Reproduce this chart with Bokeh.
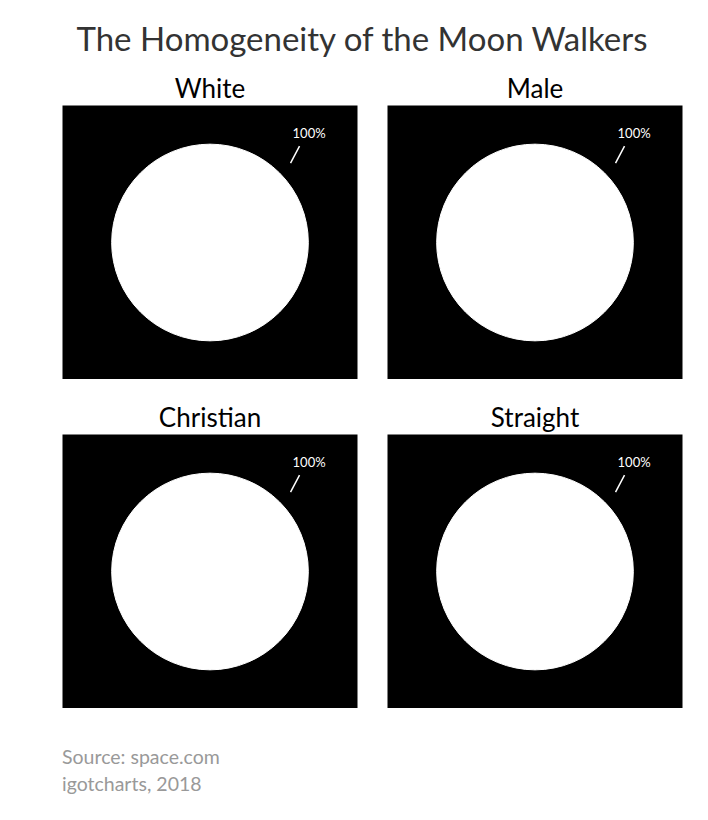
import math
from bokeh.plotting import figure
from bokeh.layouts import column, gridplot
from bokeh.models import Div, Range1d, ColumnDataSource
from bokeh.core.properties import value
from bokeh.embed import file_html
from bokeh.resources import INLINE

# ---- data ----
categories = ["White", "Male", "Christian", "Straight"]
share = [100, 100, 100, 100]          # percent of moon walkers in each group
title_text = "The Homogeneity of the Moon Walkers"
source_lines = ["Source: space.com", "igotcharts, 2018"]

FONT = "Lato"
FRAME_W, FRAME_H = 295, 274
PX_PER_UNIT = FRAME_W / 3.0
YHALF = FRAME_H / PX_PER_UNIT / 2.0

LABEL_ANGLE = math.radians(44.6)
LEADER_DIR = math.radians(62)
TEXT_ANGLE = math.radians(47.8)


def slice_pieces(frac, start):
    """Split a slice into sub-wedges no larger than half a turn (full circles
    are not drawable as a single SVG arc)."""
    total = frac * 2 * math.pi
    n = max(1, math.ceil(total / math.pi - 1e-9))
    step = total / n
    ss, ee = [], []
    for k in range(n):
        a0 = start - k * step
        a1 = a0 - step
        ss.append(a1)
        ee.append(a0)
    return ss, ee


def panel(name, pct, col, row):
    left = 62 if col == 0 else 15
    right = 15 if col == 0 else 26
    top = 45 if row == 0 else 55
    p = figure(frame_width=FRAME_W, frame_height=FRAME_H,
               x_range=Range1d(-1.5, 1.5), y_range=Range1d(-YHALF, YHALF),
               output_backend="svg", toolbar_location=None,
               min_border_left=left, min_border_right=right,
               min_border_top=top, min_border_bottom=0,
               background_fill_color="black", border_fill_color="white",
               outline_line_color=None, title=name)
    p.axis.visible = False
    p.grid.visible = False
    p.title.align = "center"
    p.title.text_font = FONT
    p.title.text_font_size = "26px"
    p.title.text_font_style = "normal"
    p.title.text_color = "black"
    p.title.standoff = 4

    frac = pct / 100.0
    ss, ee = slice_pieces(frac, math.pi / 2)
    src = ColumnDataSource(dict(x=[0] * len(ss), y=[0] * len(ss), s=ss, e=ee))
    p.wedge(x="x", y="y", radius=1.0, start_angle="s", end_angle="e",
            direction="anticlock", source=src,
            fill_color="white", line_color="white", line_width=1)

    r_in, lead_len, r_txt = 1.15, 0.195, 1.50
    x0 = r_in * math.cos(LABEL_ANGLE)
    y0 = r_in * math.sin(LABEL_ANGLE)
    lsrc = ColumnDataSource(dict(
        x0=[x0], y0=[y0],
        x1=[x0 + lead_len * math.cos(LEADER_DIR)],
        y1=[y0 + lead_len * math.sin(LEADER_DIR)],
        tx=[r_txt * math.cos(TEXT_ANGLE)], ty=[r_txt * math.sin(TEXT_ANGLE)],
        lab=[f"{pct}%"]))
    p.segment(x0="x0", y0="y0", x1="x1", y1="y1", source=lsrc,
              line_color="white", line_width=1.5)
    p.text(x="tx", y="ty", text="lab", source=lsrc, text_color="white",
           text_font=value(FONT), text_font_size="13px",
           text_align="center", text_baseline="middle")
    return p


figs = [panel(n, v, i % 2, i // 2) for i, (n, v) in enumerate(zip(categories, share))]
grid = gridplot([[figs[0], figs[1]], [figs[2], figs[3]]], toolbar_location=None)

title_div = Div(
    text=f'<div style="font-family:{FONT};font-size:33px;color:#333;'
         f'text-align:center;width:708px;line-height:1;position:relative;left:8px;'
         f'padding-top:22px;">{title_text}</div>',
    width=708, height=60, margin=(0, 0, 0, 0))
footer_div = Div(
    text='<div style="font-family:%s;font-size:19.5px;color:#999;line-height:27px;'
         'padding-top:35px;padding-left:62px;">%s</div>' % (FONT, "<br>".join(source_lines)),
    width=708, height=111, margin=(0, 0, 0, 0))

layout = column(title_div, grid, footer_div, spacing=0)
html = file_html(layout, INLINE)
open("out.html", "w").write(html)
